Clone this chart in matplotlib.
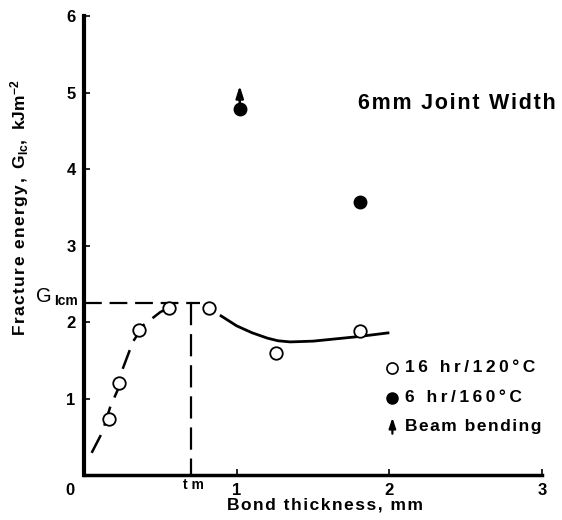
import matplotlib
matplotlib.use("Agg")
import matplotlib.pyplot as plt

plt.rcParams['font.family'] = ['Liberation Sans', 'DejaVu Sans']
plt.rcParams['font.weight'] = 'bold'
plt.rcParams['mathtext.fontset'] = 'custom'
plt.rcParams['mathtext.rm'] = 'Liberation Sans:bold'
plt.rcParams['mathtext.it'] = 'Liberation Sans:bold'
plt.rcParams['mathtext.bf'] = 'Liberation Sans:bold'
plt.rcParams['mathtext.default'] = 'bf'

# ---- data ----
open_x = [0.164, 0.229, 0.36, 0.557, 0.82, 1.26, 1.81]
open_y = [0.73, 1.20, 1.90, 2.18, 2.18, 1.60, 1.88]
filled_x = [1.02, 1.81]
filled_y = [4.78, 3.57]
beam_x = [1.02]
beam_y0 = [4.86]
beam_y1 = [5.09]

rise_x = [0.05, 0.12, 0.17, 0.22, 0.25, 0.32, 0.39, 0.50, 0.58]
rise_y = [0.29, 0.56, 0.88, 1.11, 1.37, 1.74, 1.96, 2.13, 2.21]

fall_x = [0.89, 1.0, 1.1, 1.2, 1.27, 1.35, 1.5, 1.65, 1.8, 2.0]
fall_y = [2.09, 1.95, 1.86, 1.79, 1.755, 1.74, 1.75, 1.78, 1.81, 1.86]

g_icm = 2.25
t_m = 0.70
g_icm_xend = 0.76

x_ticks = [1, 2, 3]
y_ticks = [1, 2, 3, 4, 5, 6]

legend_labels = ['16 hr/120°C', '6 hr/160°C', 'Beam bending']
legend_track = ['\u2009', '\u2009', '\u200a']


def track(s, sep):
    return sep.join(list(s))


# ---- figure ----
fig = plt.figure(figsize=(5.62, 5.20), dpi=100)
ax = fig.add_axes([0.1495, 0.0865, 0.8149, 0.8827])
ax.set_xlim(0, 3)
ax.set_ylim(0, 6)

for s in ['top', 'right']:
    ax.spines[s].set_visible(False)
ax.spines['left'].set_linewidth(3.0)
ax.spines['bottom'].set_linewidth(2.5)

ax.set_xticks(x_ticks)
ax.set_yticks(y_ticks)
ax.tick_params(axis='both', direction='in', length=4, width=1.2, labelsize=12, pad=6)
for lab in ax.get_xticklabels() + ax.get_yticklabels():
    lab.set_fontweight('bold')

# origin label
ax.text(-0.09, -0.2, '0', ha='center', va='center', fontsize=12, fontweight='bold', clip_on=False)
# t_m label
ax.text(t_m + 0.02, -0.13, 't m', ha='center', va='center', fontsize=10, fontweight='bold',
        clip_on=False)
# G_Icm label
ax.text(-0.215, 2.26, 'G', ha='right', va='baseline', fontsize=14.5,
        fontweight='normal', clip_on=False)
ax.text(-0.04, 2.22, 'Icm', ha='right', va='baseline', fontsize=10,
        fontweight='bold', clip_on=False)

# dashed guides
ax.plot([0, g_icm_xend], [g_icm, g_icm], color='black', lw=1.6, dashes=(8, 3.5), clip_on=False)
ax.plot([t_m, t_m], [g_icm, 0], color='black', lw=1.6, dashes=(10, 4))

# curves
ax.plot(rise_x, rise_y, color='black', lw=1.8, dashes=(8, 4))
ax.plot(fall_x, fall_y, color='black', lw=2.0, solid_capstyle='butt')

# points
ax.plot(open_x, open_y, 'o', ms=9, mfc='white', mec='black', mew=1.3, zorder=5)
ax.plot(filled_x, filled_y, 'o', ms=9, mfc='black', mec='black', zorder=5)
for bx, b0, b1 in zip(beam_x, beam_y0, beam_y1):
    ax.annotate('', xy=(bx, b1), xytext=(bx, b0),
                arrowprops=dict(arrowstyle='-|>,head_length=0.7,head_width=0.22',
                                color='black', lw=1.8, shrinkA=0, shrinkB=0))

# title
ax.text(2.44, 4.86, track('6mm Joint Width', '\u200a'), ha='center', va='center',
        fontsize=15.5, fontweight='bold')

# legend (manual)
lx = 2.02
ly = [1.40, 1.01, 0.64]
ax.plot([lx], [ly[0]], 'o', ms=8, mfc='white', mec='black', mew=1.2)
ax.plot([lx], [ly[1]], 'o', ms=8, mfc='black', mec='black')
ax.annotate('', xy=(lx, ly[2] + 0.11), xytext=(lx, ly[2] - 0.1),
            arrowprops=dict(arrowstyle='-|>,head_length=0.6,head_width=0.2',
                            color='black', lw=1.6, shrinkA=0, shrinkB=0))
for yy, lab, sep in zip(ly, legend_labels, legend_track):
    ax.text(2.10, yy, track(lab, sep), ha='left', va='center', fontsize=12.5,
            fontweight='bold')

# axis labels
fig.text(325 / 562, 1 - 505 / 520, track('Bond thickness, mm', '\u200a'), ha='center',
         va='center', fontsize=12.5, fontweight='bold')
fig.text(20 / 562, 1 - 208 / 520,
         track('Fracture energy,', '\u200a') + r'  G$_{Ic}$,  kJm$^{-2}$',
         ha='center', va='center', rotation=90, fontsize=12.5, fontweight='bold')

fig.savefig('out.png', dpi=100)
